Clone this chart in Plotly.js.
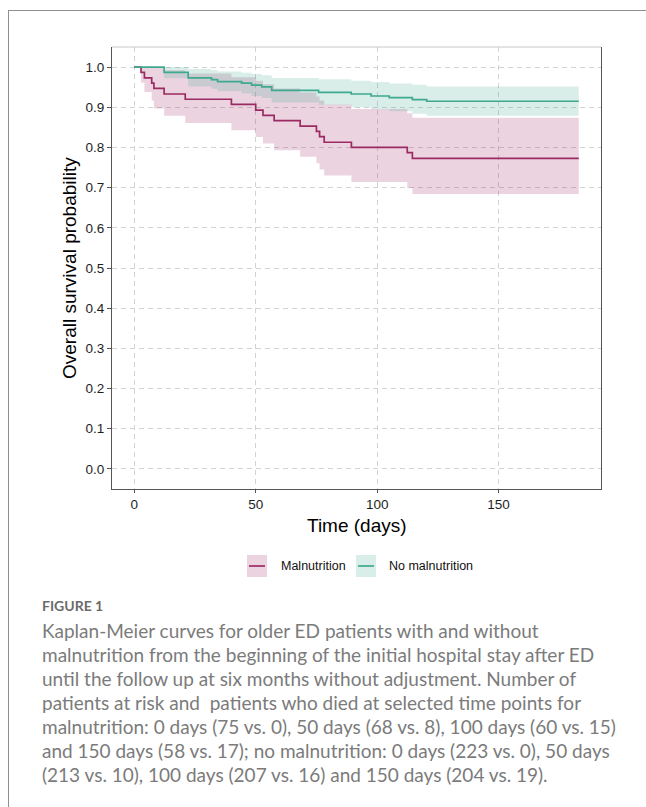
<!DOCTYPE html>
<html>
<head>
<meta charset="utf-8">
<script src="https://cdn.plot.ly/plotly-3.0.1.min.js"></script>
<style>
  html, body { margin: 0; padding: 0; background: #ffffff; }
  body { width: 646px; height: 807px; position: relative; overflow: hidden; }
  #frame { position: absolute; left: 8px; top: 10px; width: 660px; height: 820px;
           border-top: 1px solid #8f8f8f; border-left: 1px solid #8f8f8f; }
  #chart { position: absolute; left: 0; top: 0; width: 646px; height: 807px; }
  #figlabel { position: absolute; left: 42px; top: 597px; font-family: Lato, "Open Sans", sans-serif;
              font-weight: bold; font-size: 14px; line-height: 18px; color: #6b6b6b; }
  #caption { position: absolute; left: 42px; top: 619px; font-family: Lato, "Open Sans", sans-serif;
             font-size: 19px; line-height: 24px; color: #7b7b7b; white-space: nowrap; }
</style>
</head>
<body>
<div id="frame"></div>
<div id="chart"></div>
<div id="figlabel">FIGURE 1</div>
<div id="caption">Kaplan-Meier curves for older ED patients with and without<br>malnutrition from the beginning of the initial hospital stay after ED<br>until the follow up at six months without adjustment. Number of<br>patients at risk and &nbsp;patients who died at selected time points for<br>malnutrition: 0 days (75 vs. 0), 50 days (68 vs. 8), 100 days (60 vs. 15)<br>and 150 days (58 vs. 17); no malnutrition: 0 days (223 vs. 0), 50 days<br>(213 vs. 10), 100 days (207 vs. 16) and 150 days (204 vs. 19).</div>
<script>
// ---- Data ----
const groupNames = ["Malnutrition", "No malnutrition"];

const malTime  = [0, 2.8, 4.2, 7.2, 8.1, 12.3, 21, 40, 50, 53, 57.6, 68.3, 75, 76.3, 78.2, 89.4, 112.4, 114.5, 183];
const malSurv  = [1, 0.987, 0.973, 0.960, 0.947, 0.933, 0.920, 0.907, 0.893, 0.880, 0.867, 0.853, 0.840, 0.827, 0.813, 0.800, 0.787, 0.773, 0.773];
const malLower = [1, 0.961, 0.938, 0.917, 0.897, 0.879, 0.861, 0.843, 0.826, 0.810, 0.793, 0.777, 0.761, 0.745, 0.730, 0.714, 0.699, 0.684, 0.684];
const malUpper = [1, 1, 1, 1, 0.999, 0.992, 0.984, 0.975, 0.966, 0.957, 0.947, 0.937, 0.927, 0.917, 0.907, 0.896, 0.885, 0.874, 0.874];

const noTime  = [0, 12.3, 22.2, 31.8, 34.3, 44.2, 48.3, 52.5, 56.6, 75.9, 89.3, 97.5, 105, 114.5, 120.4, 183];
const noSurv  = [1, 0.987, 0.973, 0.969, 0.964, 0.960, 0.955, 0.951, 0.942, 0.937, 0.933, 0.928, 0.924, 0.919, 0.915, 0.915];
const noLower = [1, 0.972, 0.952, 0.946, 0.940, 0.934, 0.928, 0.923, 0.912, 0.906, 0.900, 0.895, 0.890, 0.884, 0.879, 0.879];
const noUpper = [1, 1, 0.995, 0.992, 0.989, 0.986, 0.983, 0.980, 0.973, 0.970, 0.966, 0.963, 0.959, 0.956, 0.952, 0.952];

const xTicks = [0, 50, 100, 150];
const yTicks = [0, 0.1, 0.2, 0.3, 0.4, 0.5, 0.6, 0.7, 0.8, 0.9, 1.0];

// ---- Styling ----
const malColor = "#9c2a62";
const noColor  = "#3fa98f";
const malFill  = "rgba(156,42,98,0.2)";
const noFill   = "rgba(63,169,143,0.2)";

const W = 646, H = 807;
const M = {l: 112, r: 45, t: 47, b: 318};
const PW = W - M.l - M.r, PH = H - M.t - M.b;
const px2x = px => (px - M.l) / PW;
const py2y = py => (H - M.b - py) / PH;

function band(t, lo, hi, fill) {
  return [
    {x: t, y: lo, type: "scatter", mode: "lines", line: {shape: "hv", width: 0, color: "rgba(0,0,0,0)"},
     hoverinfo: "skip", showlegend: false},
    {x: t, y: hi, type: "scatter", mode: "lines", line: {shape: "hv", width: 0, color: "rgba(0,0,0,0)"},
     fill: "tonexty", fillcolor: fill, hoverinfo: "skip", showlegend: false}
  ];
}

const traces = [
  ...band(malTime, malLower, malUpper, malFill),
  ...band(noTime, noLower, noUpper, noFill),
  {x: malTime, y: malSurv, type: "scatter", mode: "lines", name: groupNames[0],
   line: {shape: "hv", width: 1.7, color: malColor}, showlegend: false},
  {x: noTime, y: noSurv, type: "scatter", mode: "lines", name: groupNames[1],
   line: {shape: "hv", width: 1.7, color: noColor}, showlegend: false}
];

const axisFont = {family: "Liberation Sans, Arial, sans-serif", size: 13.5, color: "#1e1e1e"};
const titleFont = {family: "Liberation Sans, Arial, sans-serif", size: 19, color: "#000"};

// legend (manual keys)
const keyW = 20, keyH = 22, legCy = 566;
const keys = [
  {x0: 247, fill: malFill, color: malColor, label: groupNames[0], tx: 279},
  {x0: 356, fill: noFill, color: noColor, label: groupNames[1], tx: 387}
];
const shapes = [
  {type: "line", xref: "paper", yref: "paper", x0: 0, x1: 1, y0: 1, y1: 1, line: {color: "#c8c8c8", width: 1}}
];
const annotations = [
  {xref: "paper", yref: "paper", x: 0.5, y: py2y(525), text: "Time (days)", showarrow: false,
   xanchor: "center", yanchor: "middle", font: titleFont},
  {xref: "paper", yref: "paper", x: px2x(69), y: 0.5, text: "Overall survival probability", showarrow: false,
   textangle: -90, xanchor: "center", yanchor: "middle", font: titleFont}
];
keys.forEach(k => {
  shapes.push({type: "rect", xref: "paper", yref: "paper", x0: px2x(k.x0), x1: px2x(k.x0 + keyW),
               y0: py2y(legCy + keyH / 2), y1: py2y(legCy - keyH / 2), fillcolor: k.fill, line: {width: 0}});
  shapes.push({type: "line", xref: "paper", yref: "paper", x0: px2x(k.x0 + 2), x1: px2x(k.x0 + keyW - 2),
               y0: py2y(legCy), y1: py2y(legCy), line: {color: k.color, width: 1.7}});
  annotations.push({xref: "paper", yref: "paper", x: px2x(k.tx), y: py2y(legCy), text: k.label, showarrow: false,
                    xanchor: "left", yanchor: "middle", font: {family: "Liberation Sans, Arial, sans-serif", size: 12.5, color: "#111"}});
});

const layout = {
  width: W, height: H,
  margin: M,
  paper_bgcolor: "rgba(0,0,0,0)", plot_bgcolor: "#ffffff",
  showlegend: false,
  xaxis: {
    range: [-9.15, 192.15], tickmode: "array", tickvals: xTicks, ticktext: xTicks.map(String),
    showgrid: true, gridcolor: "#d3d3d3", gridwidth: 1, griddash: "5px,4px",
    zeroline: false, showline: true, linecolor: "#555555", linewidth: 1, mirror: false,
    ticks: "outside", ticklen: 3, tickcolor: "#555555", tickfont: axisFont, fixedrange: true
  },
  yaxis: {
    range: [-0.05, 1.05], tickmode: "array", tickvals: yTicks, ticktext: yTicks.map(v => v.toFixed(1)),
    showgrid: true, gridcolor: "#d3d3d3", gridwidth: 1, griddash: "5px,4px",
    zeroline: false, showline: true, linecolor: "#555555", linewidth: 1, mirror: true,
    ticks: "outside", ticklen: 4, tickcolor: "#555555", tickfont: axisFont, fixedrange: true
  },
  shapes: shapes,
  annotations: annotations
};

Plotly.newPlot("chart", traces, layout, {staticPlot: true, displayModeBar: false});
</script>
</body>
</html>
